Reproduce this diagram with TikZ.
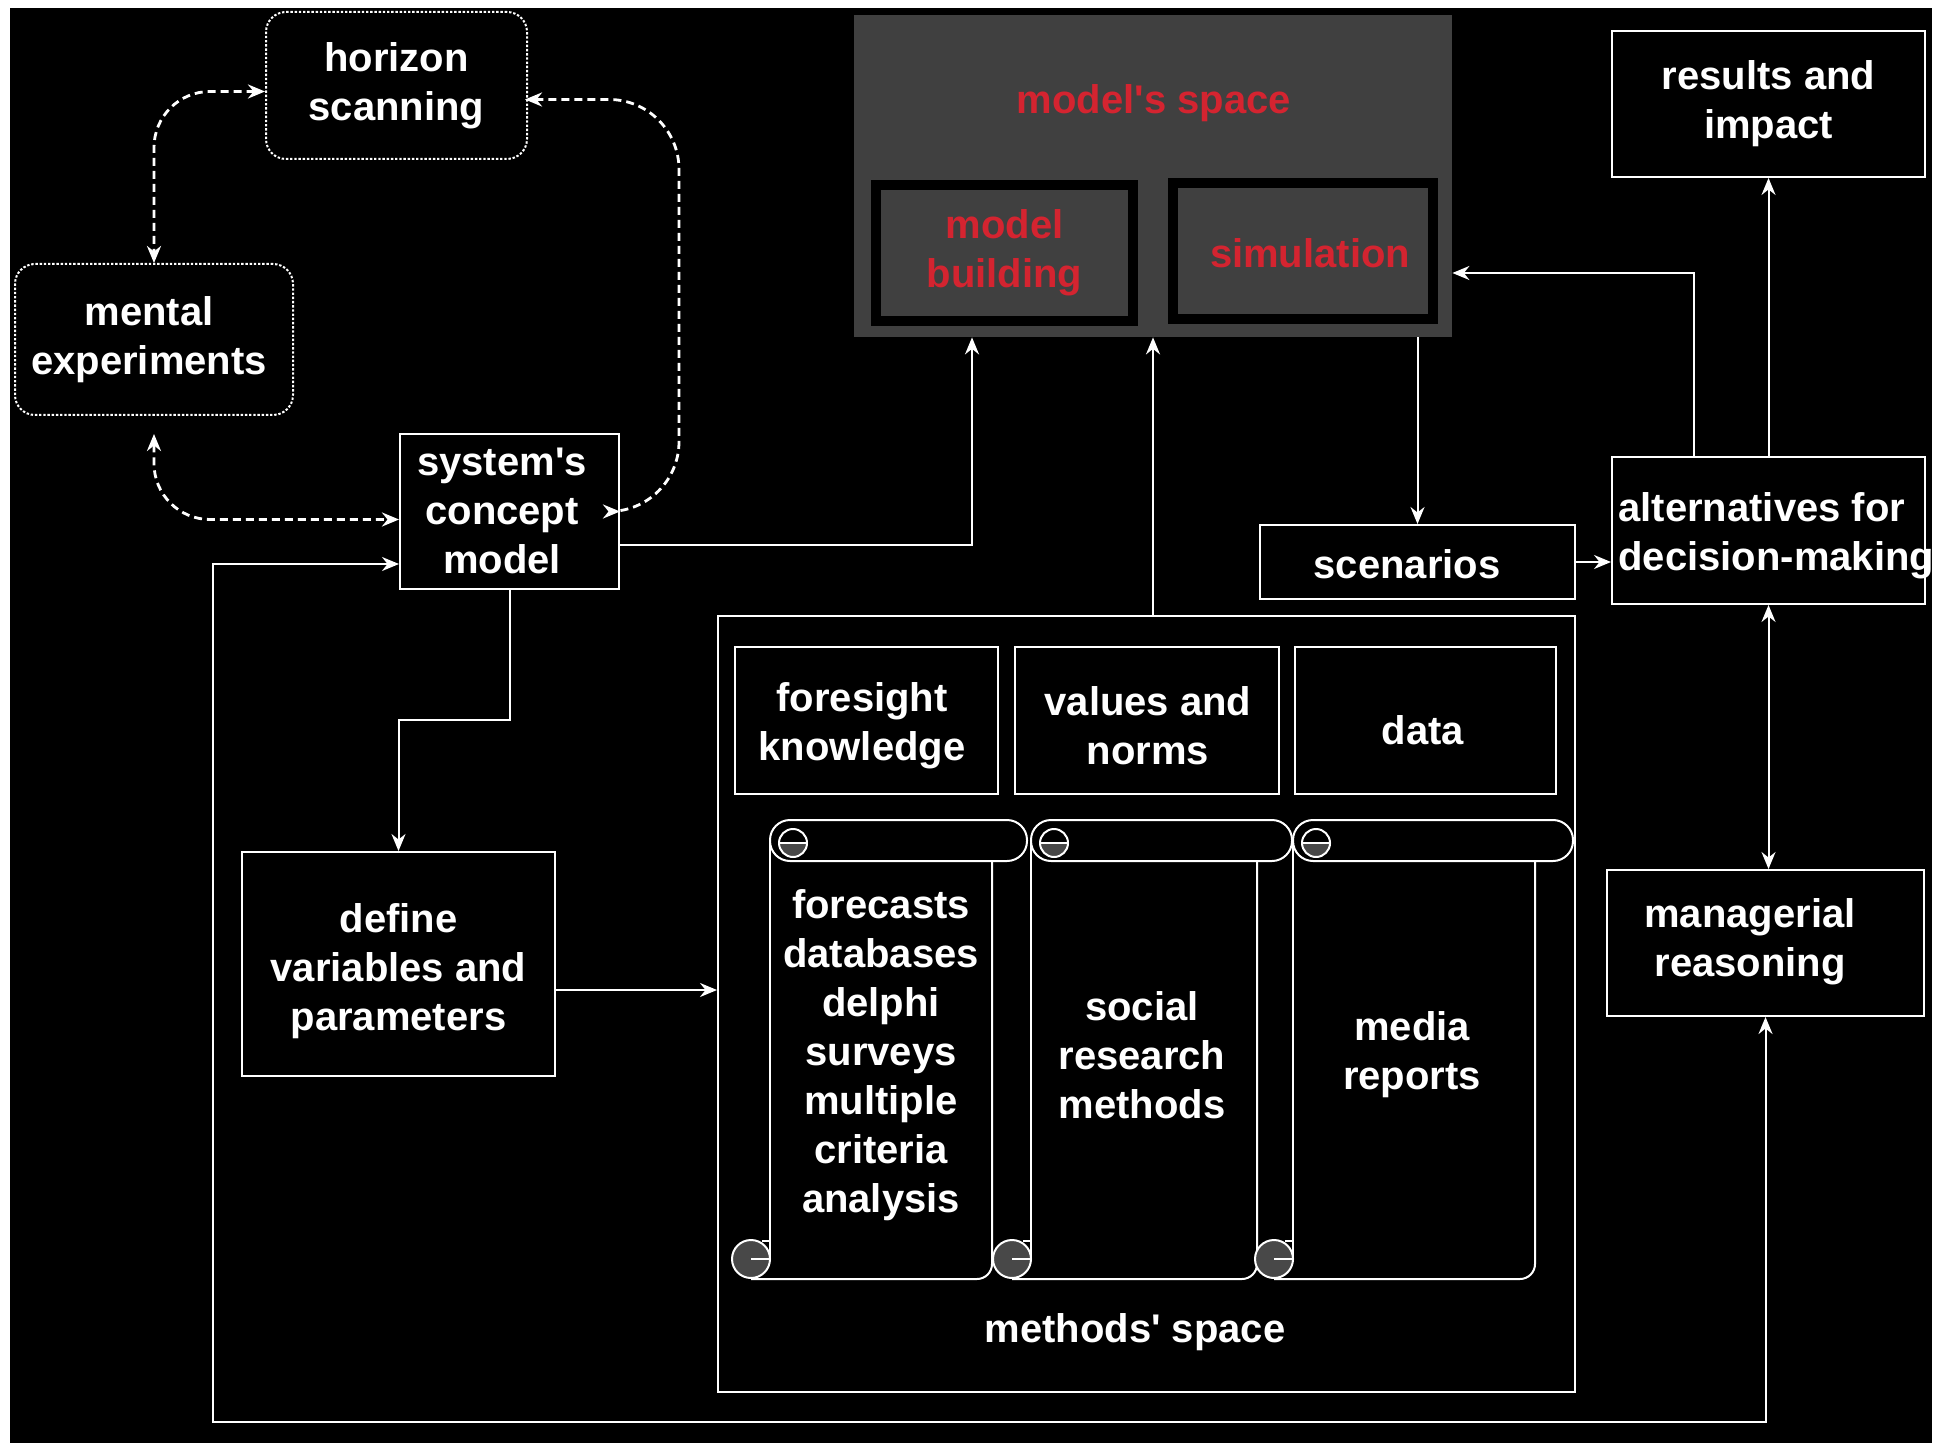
\documentclass[tikz,border=0pt]{standalone}
\usepackage{fontspec}
\setmainfont{Liberation Sans}
\usetikzlibrary{arrows.meta,calc}
\definecolor{msgray}{RGB}{64,64,64}
\definecolor{msred}{RGB}{212,36,48}
\definecolor{curlgray}{RGB}{72,72,72}
\tikzset{
  sz/.style 2 args={minimum width=#1*0.5pt, minimum height=#2*0.5pt},
  txt/.style={text=white, font=\bfseries\fontsize{20}{24.5}\selectfont, align=center, inner sep=0pt},
  box/.style={txt, draw=white, line width=1pt, fill=black},
  dotbox/.style={box, dash pattern=on 1.2pt off 0.9pt, rounded corners=10pt},
  inbox/.style={txt, text=msred, draw=black, line width=5pt, fill=msgray},
  scrl/.style={draw=white, line width=1pt},
  conn/.style={draw=white, line width=1pt, -{Stealth[length=8.5pt,width=7pt]}},
  bconn/.style={draw=white, line width=1pt, {Stealth[length=8.5pt,width=7pt]}-{Stealth[length=8.5pt,width=7pt]}},
  dconn/.style={bconn, line width=1.4pt, dash pattern=on 4pt off 2.5pt},
}
\newcommand\myscroll[5]{%
  \draw[scrl, rounded corners=10pt] (#1,#4) rectangle (#3,#4+41);
  \begin{scope}
    \clip (#1+5,#4+23) rectangle (#1+45,#4+45);
    \fill[curlgray] (#1+23,#4+23) circle[radius=7pt];
  \end{scope}
  \draw[scrl] (#1+23,#4+23) circle[radius=7pt];
  \draw[scrl] (#1+9,#4+23) -- (#1+37,#4+23);
  \draw[scrl] (#1,#4+20) -- (#1,#5-20);
  \draw[scrl, rounded corners=7.5pt] (#2,#4+41) -- (#2,#5) -- (#1-19,#5);
  \fill[curlgray, draw=white, line width=1pt] (#1-19,#5-20) circle[radius=9.5pt];
  \draw[scrl] (#1-19,#5-20) -- (#1,#5-20);
  \draw[scrl] (#1-8,#5-38) -- (#1,#5-38);
}
\begin{document}
\begin{tikzpicture}[x=0.5pt,y=-0.5pt]
\useasboundingbox (0,0) rectangle (1952,1443);
\fill[white] (0,0) rectangle (1952,1443);
\fill[black] (10,8) rectangle (1932,1443);

% model's space
\node[sz={598}{322}, fill=msgray, inner sep=0pt] (ms) at (1153,176) {};
\node[txt, text=msred] (mst) at (1154,103) {model\textquotesingle s space};
\node[inbox, sz={257}{136}] (mb) at (1004.5,253) {model\\building};
\node[inbox, sz={260}{136}] (sim) at (1303,251) {};
\node[txt, text=msred] (simt) at (1310,253) {simulation};

% left boxes
\node[dotbox, sz={261}{147}] (hs) at (396.5,85.5) {horizon\\scanning};
\node[dotbox, sz={278}{151}] (me) at (154,339.5) {};
\node[txt] (met) at (149,339.5) {mental\\experiments};
\node[box, sz={219}{155}] (sc) at (509.5,511.5) {};
\node[txt] (sct) at (502,511) {system\textquotesingle s\\concept\\model};
\node[box, sz={313}{224}] (dv) at (398.5,964) {};
\node[txt] (dvt) at (398.5,971) {define\\variables and\\parameters};

% right boxes
\node[box, sz={313}{146}] (ri) at (1768.5,104) {results and\\impact};
\node[box, sz={313}{147}] (alt) at (1768.5,530.5) {};
\node[txt, anchor=west, align=left] (altt) at (1618,536) {alternatives for\\decision-making};
\node[box, sz={315}{74}] (scn) at (1417.5,562) {};
\node[txt] (scnt) at (1407,564) {scenarios};
\node[box, sz={317}{146}] (mr) at (1765.5,943) {};
\node[txt] (mrt) at (1750,942) {managerial\\reasoning};

% methods' space
\node[box, sz={857}{776}] (msp) at (1146.5,1004) {};
\node[box, sz={263}{147}] (fk) at (866.5,720.5) {};
\node[txt] (fkt) at (862,726) {foresight\\knowledge};
\node[box, sz={264}{147}] (vn) at (1147,720.5) {};
\node[txt] (vnt) at (1148,726) {values and\\norms};
\node[box, sz={261}{147}] (dt) at (1425.5,720.5) {};
\node[txt] (dtt) at (1423,730) {data};
\myscroll{770}{992}{1027}{820}{1279}
\myscroll{1031}{1257}{1292}{820}{1279}
\myscroll{1293}{1535}{1573}{820}{1279}
\node[txt] (s1) at (881,1055) {forecasts\\databases\\delphi\\surveys\\multiple\\criteria\\analysis};
\node[txt] (s2) at (1142,1055) {social\\research\\methods};
\node[txt] (s3) at (1412,1055) {media\\reports};
\node[txt] (mspt) at (1135,1332) {methods\textquotesingle\ space};

% dashed connectors
\draw[dconn, rounded corners=28pt] ($(hs.west)+(0,6)$) -| (me.north);
\draw[dconn, rounded corners=28pt, shorten <=9pt] (me.south) |- ($(sc.west)+(0,8)$);
\draw[dconn, rounded corners=35pt] ($(hs.east)+(-3,14)$) -| (679,300) |- (sc.east);

% solid connectors
\draw[conn] ($(sc.east)+(0,33.5)$) -| ($(ms.south)+(-181,0)$);
\draw[conn] (ms.south |- msp.north) -- (ms.south);
\draw[conn] (scn.north |- ms.south) -- (scn.north);
\draw[conn] (scn.east) -- (scn.east -| alt.west);
\draw[conn] ($(alt.north)+(-74.5,0)$) |- ($(ms.east)+(0,97)$);
\draw[conn] (alt.north) -- (alt.north |- ri.south);
\draw[bconn] (alt.south) -- (alt.south |- mr.north);
\draw[conn] (sc.south) |- ($(dv.north)+(0,-131)$) -- (dv.north);
\draw[conn] ($(dv.east)+(0,26)$) coordinate (c12) -- (c12 -| msp.west);
\draw[bconn] ($(sc.west)+(0,52.5)$) -| (213,1422) -| (mr.south);
\end{tikzpicture}
\end{document}
